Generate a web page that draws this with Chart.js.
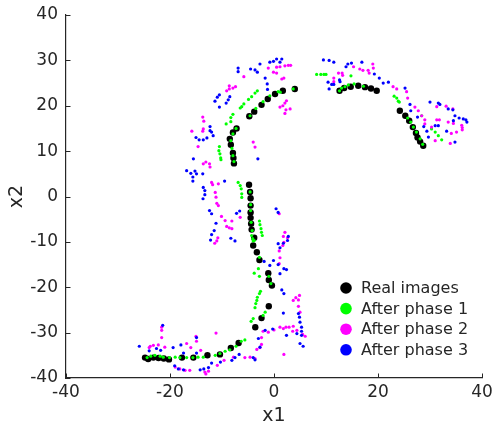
<!DOCTYPE html>
<html>
<head>
<meta charset="utf-8">
<script src="https://cdn.jsdelivr.net/npm/chart.js@4/dist/chart.umd.min.js"></script>
<style>
  html, body { margin: 0; padding: 0; background: #fff; }
  #wrap { width: 494px; height: 428px; position: relative; }
</style>
</head>
<body>
<div id="wrap"><canvas id="c" width="494" height="428"></canvas></div>
<script>
// Latent-space coordinates [x1, x2] for each group
const realImages = [
  [4.0,23.7],[1.7,23.3],[0.2,22.6],[-1.2,21.5],[-2.4,20.2],[-3.8,18.7],[-4.75,17.7],[-7.2,15.0],[-7.9,14.1],
  [-8.5,12.7],[-8.3,11.4],[-7.9,9.6],[-7.8,8.5],[-7.7,7.3],
  [-4.8,2.6],[-4.6,1.0],[-4.5,-0.4],[-4.5,-2.0],[-4.5,-3.5],[-4.5,-4.7],[-4.4,-6.0],[-4.3,-7.3],[-3.8,-9.1],
  [-4.0,-10.8],[-3.3,-12.3],[-2.8,-14.0],[-1.1,-16.9],[-1.0,-18.4],[-0.4,-19.6],[-1.0,-24.2],[-2.4,-26.8],
  [-3.6,-28.8],[-6.8,-32.3],[-8.3,-33.4],[-10.4,-34.8],[-12.8,-35.0],[-15.5,-35.5],[-17.7,-35.5],[-20.2,-35.9],
  [-21.2,-35.7],[-22.2,-35.6],[-23.2,-35.5],[-24.2,-35.8],[-24.8,-35.5],
  [12.6,23.3],[13.5,23.9],[14.75,24.2],[16.2,24.4],[17.5,24.1],[18.65,23.8],[19.75,23.3],[24.2,18.9],
  [25.25,17.8],[26.0,16.7],[26.7,15.3],[27.3,14.0],[27.6,13.0],[28.1,12.1],[28.7,11.2]
];

const afterPhase1 = [
  [-3.2,23.3],[-3.65,22.8],[-4.3,22.0],[-4.9,21.4],[-5.8,20.4],[-6.2,19.8],[-6.5,19.5],[-7.9,18.1],[-8.3,17.4],
  [-8.3,16.5],[-9.2,16.0],[-10.5,11.0],[-10.6,10.1],[-10.4,9.4],[-10.25,8.5],[-10.2,8.1],
  [-4.6,17.8],[-3.5,19.4],[-2.1,20.9],[-0.8,22.2],[0.8,23.1],[3.7,23.7],[1.2,23.0],
  [-7.3,15.0],[-7.9,13.8],[-8.3,12.3],[-8.1,10.6],[-7.9,9.0],[-7.7,7.7],
  [-6.9,3.1],[-6.5,2.4],[-6.3,1.7],[-6.2,0.6],[-6.2,-0.2],
  [-4.6,1.0],[-4.5,-1.8],[-4.5,-3.1],[-4.4,-5.7],[-4.2,-7.5],[-3.8,-9.7],
  [-2.8,-5.4],[-2.7,-6.2],[-2.5,-7.1],[-2.4,-7.9],[-2.25,-8.6],[-4.3,-8.6],[-4.1,-9.3],[-4.0,-9.8],
  [-2.8,-13.4],[-3.8,-16.9],[-2.8,-17.6],[-3.0,-15.9],[-1.0,-17.6],[-0.6,-19.2],
  [-2.6,-20.9],[-2.8,-21.4],[-3.2,-22.2],[-3.3,-22.9],[-3.5,-23.6],[-3.65,-24.5],[-1.7,-25.5],[-2.1,-26.2],
  [-4.0,-26.9],[-4.4,-27.5],[-5.6,-31.6],[-6.3,-31.9],[-7.3,-33.0],[-8.5,-33.8],[-9.4,-34.1],[-10.4,-34.6],
  [-11.3,-35.0],[-13.6,-35.4],[-14.6,-35.4],[-15.6,-35.5],[-16.8,-35.5],[-18.1,-35.5],[-19.0,-35.4],
  [-20.1,-35.5],[-21.3,-35.4],[-21.9,-35.2],[-22.9,-35.0],[-23.7,-35.2],[-24.4,-35.5],
  [8.2,26.9],[9.0,26.9],[9.6,26.9],[10.0,26.9],[14.8,26.6],[12.6,23.3],[13.0,23.9],[13.65,24.2],[14.3,24.6],
  [15.4,24.8],[17.2,24.3],[23.1,22.1],[23.6,21.7],[23.9,21.0],[24.1,20.8],[28.4,17.8],[25.7,17.3],[26.3,16.4],
  [26.8,15.3],[27.4,14.2],[28.1,12.7],[28.6,11.5],[30.3,14.9],[31.0,14.2],[31.6,13.4],[32.25,12.5]
];

const afterPhase2 = [
  [-1.1,28.3],[-0.1,27.4],[0.5,27.2],[0.5,28.5],[1.15,28.6],[2.1,28.8],[2.75,28.9],[3.2,28.9],[1.5,25.9],[1.9,26.1],
  [-5.8,26.4],[-9.1,23.3],[-8.6,23.7],[-7.9,23.9],[-7.4,24.2],[-8.6,24.4],
  [-13.7,17.5],[-13.5,16.6],[-13.6,14.9],[-13.7,14.4],[-15.8,14.4],[-14.6,11.0],[-4.0,12.0],[-3.65,10.9],
  [1.15,19.7],[1.7,20.0],[2.1,20.6],[2.4,21.1],[2.3,19.1],[3.1,19.3],[2.1,18.3],
  [-13.6,7.2],[-13.1,7.6],[-12.4,7.2],[-12.3,6.5],[-12.0,3.1],[-11.8,2.6],[-10.7,2.8],[-11.3,0.9],[-11.15,-0.15],
  [-11.0,-1.5],[-10.7,-2.0],[-10.1,-4.4],[-9.4,-5.3],[-8.1,-5.4],[-9.1,-6.6],[-8.6,-6.9],[-8.1,-7.1],
  [-10.8,-9.1],[-11.0,-9.8],[-11.4,-10.3],[-6.5,-4.6],[1.0,-3.8],
  [2.1,-7.9],[1.8,-8.8],[2.6,-9.1],[1.9,-10.1],[1.7,-10.8],[1.0,-12.0],[1.15,-13.5],[1.0,-14.8],
  [11.5,26.1],[11.5,25.3],[12.4,27.2],[13.1,27.2],[13.2,26.7],[15.3,28.6],[16.5,28.1],[17.1,27.8],[18.1,27.8],
  [18.3,27.2],[19.0,29.2],[19.1,28.3],[22.9,24.2],[23.6,23.7],[25.5,23.1],[25.7,21.7],[27.1,19.7],[27.75,18.9],
  [28.4,17.8],[29.0,16.9],[29.0,16.0],[30.3,15.3],[31.0,12.3],[31.3,19.8],[33.1,19.9],[34.4,19.3],[31.3,16.9],
  [31.8,16.9],[33.5,16.4],[34.5,16.1],[36.1,15.7],[36.2,15.2],[36.2,14.7],[35.1,14.2],[34.1,13.9],[33.9,11.7],
  [3.7,-22.9],[4.2,-22.3],[4.7,-22.8],[4.9,-21.8],[4.7,-24.2],[5.0,-25.5],[1.8,-29.1],[1.15,-28.8],[2.3,-28.8],
  [2.9,-28.8],[3.7,-28.6],[3.6,-29.7],[4.4,-29.5],[5.5,-30.4],[6.0,-30.8],[1.9,-34.8],[0.0,-29.4],[-1.1,-29.9],
  [-2.1,-29.7],[-2.4,-31.1],[-2.4,-32.6],[-2.7,-33.3],[-3.3,-33.7],[-3.65,-35.7],[-4.6,-35.4],[-5.6,-35.5],
  [-7.8,-35.4],[-9.6,-36.1],[-10.9,-37.2],[-12.6,-38.5],[-13.1,-39.1],[-13.3,-38.7],[-16.2,-38.3],[-17.1,-38.3],
  [-18.1,-38.0],[-19.0,-37.6],[-11.15,-30.1],[-14.1,-33.9],[-15.0,-30.8],[-14.9,-31.9],[-16.8,-32.4],[-16.0,-33.3],
  [-21.0,-33.2],[-21.6,-29.5],[-21.6,-28.8],[-21.6,-31.1],[-23.8,-33.0],[-23.2,-32.8],[-22.25,-32.7],[-24.0,-33.3]
];

const afterPhase3 = [
  [-6.9,28.3],[-6.9,27.5],[-4.5,28.1],[-3.65,27.9],[-3.2,27.4],[-2.7,29.2],[-0.8,29.6],[-0.1,29.8],[0.5,30.3],
  [1.5,30.3],[1.15,29.6],[-1.7,26.1],[-1.3,24.8],[-1.25,23.6],
  [-10.5,22.4],[-10.9,21.9],[-11.35,21.0],[-8.5,22.0],[-8.8,21.3],[-9.2,20.6],[-10.5,19.7],
  [-12.3,15.4],[-12.3,14.5],[-12.0,14.2],[-11.7,13.4],[-12.9,12.9],[-13.6,12.5],[-14.4,12.5],[-15.0,13.0],
  [-15.5,8.3],[-3.1,8.3],[-16.8,5.7],[-16.0,5.1],[-15.2,5.6],[-14.9,5.0],[-13.7,5.0],[-15.6,4.3],[-15.6,3.4],
  [-9.5,3.4],[-13.6,2.0],[-13.3,1.3],[-13.3,0.4],[-13.65,-0.5],[-12.4,-3.1],[-12.0,-3.8],[-11.15,-5.9],
  [-11.5,-7.5],[-12.0,-8.4],[-12.2,-9.6],[-6.6,-3.2],[-7.2,-3.7],[-8.3,-9.2],[-7.5,-9.8],
  [0.4,-2.7],[0.8,-3.5],[2.75,-8.8],[2.6,-9.7],[1.8,-10.3],[0.8,-10.4],[1.15,-11.3],[-0.1,-14.1],[-1.9,-14.3],
  [-0.8,-15.2],[0.8,-15.0],[2.4,-16.1],[1.9,-15.9],[1.15,-17.0],[1.5,-20.6],[1.9,-21.4],[1.8,-25.7],
  [4.7,-25.8],[4.9,-26.6],[5.0,-27.7],[5.3,-28.8],[5.3,-29.7],[5.3,-30.6],[5.0,-32.4],[5.6,-33.0],[2.4,-30.6],
  [4.4,-30.2],[-0.25,-29.2],[-1.7,-29.5],[-3.0,-31.3],[-2.7,-33.2],[-4.0,-35.5],[-3.65,-36.0],[-6.7,-34.8],
  [-7.5,-35.5],[-8.1,-36.1],[-10.3,-36.5],[-12.0,-36.7],[-12.6,-37.7],[-13.5,-38.0],[-14.2,-38.2],[-17.4,-38.2],
  [-18.4,-38.0],[-19.1,-37.3],[-14.9,-34.5],[-17.4,-34.5],[-14.9,-31.1],[-19.4,-33.3],[-17.9,-32.7],
  [-21.8,-33.9],[-22.6,-33.5],[-24.0,-34.0],[-25.9,-33.0],[-21.4,-28.4],
  [9.5,30.1],[10.6,30.0],[11.5,29.6],[13.85,28.6],[14.2,29.2],[14.9,29.4],[16.9,29.6],[10.4,25.2],[11.1,24.7],
  [10.6,23.7],[11.5,24.7],[12.6,25.7],[12.7,25.3],[19.3,27.0],[20.25,26.1],[21.0,25.0],[22.0,25.2],[25.2,23.9],
  [26.15,20.3],[26.3,18.9],[27.6,17.5],[28.8,15.4],[29.4,14.4],[29.7,13.1],[30.0,20.8],[31.6,20.6],[31.9,20.3],
  [33.5,19.3],[34.4,19.1],[34.8,17.8],[35.6,17.3],[36.4,17.1],[36.9,16.9],[37.1,16.4],[34.5,16.7],[31.0,15.6],
  [31.6,15.6],[33.2,14.4],[34.8,12.0]
];

const seriesLabels = ['Real images', 'After phase 1', 'After phase 2', 'After phase 3'];
const seriesColors = ['#000000', '#00ff00', '#ff00ff', '#0000ff'];
const xTicks = [-40, -20, 0, 20, 40];
const yTicks = [-40, -30, -20, -10, 0, 10, 20, 30, 40];

const AXIS = '#262626';
const FONT = '"DejaVu Sans", sans-serif';

const toPoints = arr => arr.map(p => ({ x: p[0], y: p[1] }));
const groups = [realImages, afterPhase1, afterPhase2, afterPhase3];
const radii = [3.2, 1.6, 1.6, 1.6];

// inward tick marks on the left and bottom axes
const innerTicks = {
  id: 'innerTicks',
  afterDraw(chart) {
    const { ctx, chartArea: a, scales } = chart;
    ctx.save();
    ctx.strokeStyle = AXIS;
    ctx.lineWidth = 1;
    ctx.beginPath();
    xTicks.forEach(v => {
      const px = Math.round(scales.x.getPixelForValue(v)) + 0.5;
      ctx.moveTo(px, a.bottom);
      ctx.lineTo(px, a.bottom - 4.5);
    });
    yTicks.forEach(v => {
      const py = Math.round(scales.y.getPixelForValue(v)) + 0.5;
      ctx.moveTo(a.left, py);
      ctx.lineTo(a.left + 4.5, py);
    });
    ctx.stroke();
    ctx.restore();
  }
};

// legend inside the lower right of the plot area
const innerLegend = {
  id: 'innerLegend',
  afterDraw(chart) {
    const { ctx, chartArea: a } = chart;
    ctx.save();
    ctx.font = '16px ' + FONT;
    ctx.textBaseline = 'middle';
    ctx.textAlign = 'left';
    const mx = a.left + 280, ty = a.top + 273, step = 20.6;
    seriesLabels.forEach((lab, i) => {
      const y = ty + i * step;
      ctx.fillStyle = seriesColors[i];
      ctx.beginPath();
      ctx.arc(mx, y, 5.8, 0, Math.PI * 2);
      ctx.fill();
      ctx.fillStyle = AXIS;
      ctx.fillText(lab, mx + 15, y + 1);
    });
    ctx.restore();
  }
};

new Chart(document.getElementById('c'), {
  type: 'scatter',
  data: {
    datasets: groups.map((g, i) => ({
      label: seriesLabels[i],
      data: toPoints(g),
      backgroundColor: seriesColors[i],
      borderColor: seriesColors[i],
      borderWidth: 0,
      pointRadius: radii[i],
      pointHoverRadius: radii[i],
      order: 4 - i
    }))
  },
  options: {
    responsive: false,
    animation: false,
    events: [],
    layout: { padding: { top: 15, right: 12, left: 0, bottom: 0 } },
    plugins: { legend: { display: false }, tooltip: { enabled: false } },
    scales: {
      x: {
        type: 'linear', min: -40, max: 40,
        afterFit: s => { s.height = 50; s.paddingLeft = 0; s.paddingRight = 0; },
        afterBuildTicks: s => { s.ticks = xTicks.map(v => ({ value: v })); },
        grid: { display: false, drawTicks: false },
        border: { display: true, color: AXIS, width: 1.2 },
        ticks: { color: AXIS, font: { family: FONT, size: 17 }, padding: 4, maxRotation: 0 },
        title: { display: true, text: 'x1', color: AXIS, font: { family: FONT, size: 19 }, padding: { top: 0, bottom: 1 } }
      },
      y: {
        type: 'linear', min: -40, max: 40,
        afterFit: s => { s.width = 66; s.paddingTop = 0; s.paddingBottom = 0; },
        afterBuildTicks: s => { s.ticks = yTicks.map(v => ({ value: v })); },
        grid: { display: false, drawTicks: false },
        border: { display: true, color: AXIS, width: 1.2 },
        ticks: { color: AXIS, font: { family: FONT, size: 17 }, padding: 8 },
        title: { display: true, text: 'x2', color: AXIS, font: { family: FONT, size: 19 }, padding: { top: 6, bottom: 0 } }
      }
    }
  },
  plugins: [innerTicks, innerLegend]
});
</script>
</body>
</html>
